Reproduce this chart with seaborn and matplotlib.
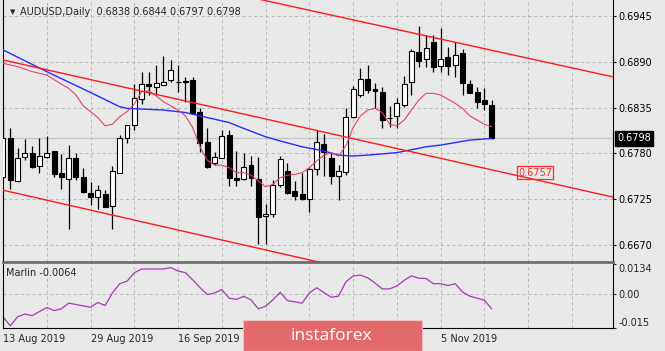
import numpy as np
import pandas as pd
import seaborn as sns
import matplotlib.pyplot as plt
import matplotlib.transforms as mtransforms
from matplotlib.patches import Rectangle

# AUDUSD daily candles, 13 Aug 2019 .. 14 Nov 2019
opens = [0.6752, 0.6798, 0.6747, 0.6776, 0.6781, 0.6765, 0.6776, 0.6783, 0.6757, 0.6750,
         0.6775, 0.6752, 0.6733, 0.6728, 0.6732, 0.6717, 0.6757, 0.6798, 0.6814, 0.6845,
         0.6863, 0.6860, 0.6862, 0.6868, 0.6866, 0.6867, 0.6868, 0.6830, 0.6794, 0.6769,
         0.6775, 0.6802, 0.6751, 0.6750, 0.6766, 0.6750, 0.6705, 0.6707, 0.6742, 0.6759,
         0.6735, 0.6731, 0.6725, 0.6761, 0.6791, 0.6775, 0.6753, 0.6758, 0.6824, 0.6850,
         0.6869, 0.6857, 0.6854, 0.6822, 0.6825, 0.6838, 0.6865, 0.6901, 0.6893, 0.6914,
         0.6885, 0.6895, 0.6886, 0.6900, 0.6863, 0.6854, 0.6844, 0.6838]
highs = [0.6821, 0.6811, 0.6787, 0.6797, 0.6789, 0.6798, 0.6801, 0.6783, 0.6779, 0.6790,
         0.6780, 0.6763, 0.6746, 0.6742, 0.6736, 0.6765, 0.6802, 0.6814, 0.6863, 0.6877,
         0.6877, 0.6886, 0.6897, 0.6892, 0.6886, 0.6872, 0.6872, 0.6834, 0.6810, 0.6782,
         0.6808, 0.6808, 0.6783, 0.6780, 0.6777, 0.6776, 0.6720, 0.6748, 0.6777, 0.6768,
         0.6747, 0.6757, 0.6762, 0.6808, 0.6803, 0.6781, 0.6766, 0.6834, 0.6861, 0.6882,
         0.6886, 0.6864, 0.6860, 0.6837, 0.6847, 0.6873, 0.6905, 0.6933, 0.6922, 0.6922,
         0.6930, 0.6908, 0.6913, 0.6905, 0.6868, 0.6860, 0.6858, 0.6844]
lows = [0.6748, 0.6737, 0.6746, 0.6772, 0.6763, 0.6756, 0.6775, 0.6752, 0.6737, 0.6690,
        0.6748, 0.6733, 0.6718, 0.6713, 0.6716, 0.6690, 0.6756, 0.6793, 0.6808, 0.6839,
        0.6850, 0.6850, 0.6862, 0.6866, 0.6854, 0.6842, 0.6828, 0.6782, 0.6762, 0.6766,
        0.6774, 0.6741, 0.6741, 0.6748, 0.6741, 0.6672, 0.6672, 0.6704, 0.6740, 0.6731,
        0.6724, 0.6724, 0.6710, 0.6754, 0.6753, 0.6744, 0.6724, 0.6754, 0.6823, 0.6848,
        0.6852, 0.6834, 0.6811, 0.6812, 0.6811, 0.6836, 0.6850, 0.6884, 0.6884, 0.6877,
        0.6878, 0.6874, 0.6872, 0.6850, 0.6852, 0.6834, 0.6832, 0.6797]
closes = [0.6798, 0.6748, 0.6775, 0.6780, 0.6764, 0.6777, 0.6781, 0.6755, 0.6752, 0.6775,
          0.6752, 0.6734, 0.6728, 0.6736, 0.6716, 0.6759, 0.6798, 0.6814, 0.6846, 0.6863,
          0.6861, 0.6864, 0.6866, 0.6880, 0.6865, 0.6866, 0.6828, 0.6792, 0.6764, 0.6776,
          0.6801, 0.6751, 0.6748, 0.6764, 0.6751, 0.6704, 0.6708, 0.6742, 0.6773, 0.6733,
          0.6729, 0.6726, 0.6761, 0.6794, 0.6782, 0.6753, 0.6759, 0.6824, 0.6857, 0.6869,
          0.6856, 0.6855, 0.6820, 0.6822, 0.6840, 0.6863, 0.6903, 0.6891, 0.6906, 0.6884,
          0.6893, 0.6885, 0.6898, 0.6864, 0.6852, 0.6842, 0.6839, 0.6798]

# fast MA (pink) and slow MA (blue), read at bar numbers
fast_idx = [0, 2, 4, 6] + list(range(8, 68))
fast_ma = [0.6888, 0.6884, 0.6878, 0.6874,
           0.6863, 0.6858, 0.6850, 0.6837, 0.6830, 0.6823, 0.6813, 0.6815, 0.6824, 0.6830,
           0.6839, 0.6854, 0.6855, 0.6849, 0.6842, 0.6837, 0.6832, 0.6825, 0.6811, 0.6788,
           0.6772, 0.6766, 0.6766, 0.6763, 0.6757, 0.6757, 0.6754, 0.6747, 0.6740, 0.6743,
           0.6751, 0.6754, 0.6755, 0.6757, 0.6763, 0.6771, 0.6778, 0.6781, 0.6777, 0.6789,
           0.6811, 0.6825, 0.6832, 0.6834, 0.6829, 0.6815, 0.6813, 0.6820, 0.6832, 0.6844,
           0.6852, 0.6852, 0.6850, 0.6845, 0.6840, 0.6834, 0.6825, 0.6820, 0.6815, 0.6812]
slow_idx = [0, 6, 12, 16, 17, 22, 25, 28, 31, 33, 36, 38, 41, 44, 46, 48, 50, 54, 58, 60, 64, 67]
slow_ma = [0.6904, 0.6878, 0.6853, 0.6836, 0.6834, 0.6832, 0.6829, 0.6823, 0.6817, 0.6810, 0.6800,
           0.6795, 0.6788, 0.6783, 0.6778, 0.6777, 0.6778, 0.6781, 0.6788, 0.6790, 0.6796, 0.6798]

# channel lines (bar number -> price)
trend_x = [0, 84]
upper_line = [0.7032, 0.6871]
middle_line = [0.6892, 0.6727]
lower_line = [0.6736, 0.6569]
label_price = 0.6757

# Marlin oscillator
marlin_idx = [0, 1, 2, 3, 4, 6, 7, 8, 9, 11, 12, 13, 14, 15, 16, 17, 18, 19, 20, 21, 22, 23, 24,
              25, 26, 27, 28, 29, 30, 31, 32, 33, 34, 35, 36, 37, 38, 39, 40, 41, 42, 43, 44, 45,
              46, 47, 48, 49, 50, 51, 52, 53, 54, 55, 56, 57, 58, 59, 60, 61, 62, 63, 64, 65, 66, 67]
marlin = [-0.0099, -0.0139, -0.0099, -0.0087, -0.0094, -0.0058, -0.0072, -0.0064, -0.0039, -0.0051,
          -0.0057, -0.0036, -0.0049, 0.0006, 0.0047, 0.0058, 0.0095, 0.0112, 0.0112, 0.0112, 0.0112,
          0.0118, 0.0103, 0.0096, 0.0064, 0.0030, -0.0001, 0.0006, 0.0021, -0.0017, -0.0022, -0.0009,
          -0.0024, -0.0064, -0.0053, -0.0024, 0.0009, -0.0028, -0.0033, -0.0039, 0.0006, 0.0029,
          0.0008, -0.0013, -0.0008, 0.0055, 0.0081, 0.0085, 0.0073, 0.0050, 0.0024, 0.0024, 0.0037,
          0.0062, 0.0082, 0.0071, 0.0070, 0.0047, 0.0047, 0.0039, 0.0047, 0.0010, -0.0008, -0.0017,
          -0.0026, -0.0064]

price_ticks = [0.6945, 0.6890, 0.6835, 0.6780, 0.6725, 0.6670]
marlin_ticks = [0.0134, 0.0, -0.015]
marlin_tick_labels = ['0.0134', '0.00', '-0.015']
# ticks under the watermark carry no visible label
date_idx = [0, 12, 24, 36, 48, 60]
date_labels = ['13 Aug 2019', '29 Aug 2019', '16 Sep 2019', '', '', '5 Nov 2019']
grid_idx = list(range(0, 84, 6))

sns.set_style("white")
plt.rcParams['font.family'] = ['DejaVu Sans']
plt.rcParams['font.size'] = 7

BG = '#e8e8e8'
GRID = '#b4b4b4'
W, H = 665, 351


def px_rect(x0, y0, x1, y1):
    return [x0 / W, 1 - y1 / H, (x1 - x0) / W, (y1 - y0) / H]


fig = plt.figure(figsize=(W / 100, H / 100), dpi=100, facecolor=BG)
ax = fig.add_axes(px_rect(2.5, 0, 613, 262), facecolor=BG)
ax2 = fig.add_axes(px_rect(2.5, 264, 613, 328.3), facecolor=BG)

xlim = (-0.07, 83.63)

# --- candles
df = pd.DataFrame({'o': opens, 'h': highs, 'l': lows, 'c': closes})
df['i'] = np.arange(len(df))
up = df['c'] >= df['o']
ax.vlines(df['i'], df['l'], df['h'], color='black', lw=0.9, zorder=3)
ax.bar(df['i'][up], (df['c'] - df['o'])[up], bottom=df['o'][up], width=0.68,
       color='white', edgecolor='black', lw=0.8, zorder=4)
ax.bar(df['i'][~up], (df['o'] - df['c'])[~up], bottom=df['c'][~up], width=0.68,
       color='black', edgecolor='black', lw=0.8, zorder=4)

# moving averages
sns.lineplot(x=slow_idx, y=slow_ma, ax=ax, color='#2b2bff', lw=1.0, zorder=5)
sns.lineplot(x=fast_idx, y=fast_ma, ax=ax, color='#e0405a', lw=0.75, zorder=5)

# channel
for line in (upper_line, middle_line, lower_line):
    sns.lineplot(x=trend_x, y=line, ax=ax, color='#ff1a1a', lw=1.0, zorder=6)

ax.text(70.6, label_price, f'{label_price:.4f}', color='#ff2a2a', fontsize=7,
        ha='left', va='center', zorder=8,
        bbox=dict(boxstyle='square,pad=0.15', fc='none', ec='#ff2a2a', lw=0.9))

# current price line + label
ax.axhline(closes[-1], color='#c4c4c4', lw=0.9, zorder=1)
trans = mtransforms.blended_transform_factory(ax.transAxes, ax.transData)
ax.text(1.0066, closes[-1], f'{closes[-1]:.4f}', transform=trans, color='white',
        fontsize=7, ha='left', va='center', clip_on=False, zorder=10,
        bbox=dict(boxstyle='square,pad=0.22', fc='black', ec='black'))

ax.set_xlim(*xlim)
ax.set_ylim(0.66500, 0.69638)
ax.set_xticks(grid_idx)
ax.set_yticks(price_ticks)
ax.set_yticklabels([f'{v:.4f}' for v in price_ticks])
ax.yaxis.tick_right()
ax.tick_params(axis='x', length=0, labelbottom=False)
ax.tick_params(axis='y', length=2.2, width=0.8, pad=2, colors='black', labelsize=7)
ax.grid(True, ls=(0, (3, 3)), color=GRID, lw=0.7)
ax.set_axisbelow(True)
ax.set_xlabel('')
ax.set_ylabel('')
for s in ('left', 'right'):
    ax.spines[s].set_color('black')
    ax.spines[s].set_linewidth(0.8)
ax.spines['top'].set_visible(False)
ax.spines['bottom'].set_color('#6e6e6e')
ax.spines['bottom'].set_linewidth(2.0)

ax.text(10 / 610.5, 0.954, '\u25BC', transform=ax.transAxes, fontsize=5,
        ha='center', va='center')
ax.text(17.5 / 610.5, 0.954,
        f'AUDUSD,Daily  {opens[-1]:.4f} {highs[-1]:.4f} {lows[-1]:.4f} {closes[-1]:.4f}',
        transform=ax.transAxes, fontsize=7, ha='left', va='center')

# --- Marlin sub window
sns.lineplot(x=marlin_idx, y=marlin, ax=ax2, color='#a53cb4', lw=0.9)
ax2.set_xlim(*xlim)
ax2.set_ylim(-0.015, 0.0134)
ax2.set_xticks(date_idx)
ax2.set_xticklabels(date_labels, ha='left')
ax2.set_xticks(grid_idx, minor=True)
ax2.tick_params(axis='x', which='major', length=2.5, width=0.8, pad=1.5, labelsize=7)
ax2.tick_params(axis='x', which='minor', length=0)
ax2.set_yticks(marlin_ticks)
ax2.set_yticklabels(marlin_tick_labels)
ax2.yaxis.tick_right()
ax2.tick_params(axis='y', length=2.2, width=0.8, pad=2, labelsize=7)
lbls = ax2.get_yticklabels()
lbls[0].set_va('top')
lbls[2].set_va('bottom')
ax2.grid(True, which='both', axis='x', ls=(0, (3, 3)), color=GRID, lw=0.7)
ax2.axhline(0, ls=(0, (3, 3)), color=GRID, lw=0.7, zorder=0)
ax2.set_axisbelow(True)
ax2.set_xlabel('')
ax2.set_ylabel('')
for s in ('left', 'right', 'bottom'):
    ax2.spines[s].set_color('black')
    ax2.spines[s].set_linewidth(0.8)
ax2.spines['top'].set_visible(False)
ax2.text(3.5 / 610.5, 0.86, f'Marlin {marlin[-1]:.4f}', transform=ax2.transAxes,
         fontsize=7, ha='left', va='center')

# watermark
fig.patches.append(Rectangle((243 / W, 0), 179 / W, 31 / H, transform=fig.transFigure,
                             fc='#e36a6a', ec='#f2c0c0', lw=0.8, zorder=20))
fig.text(331 / W, 1 - 336 / H, 'instaforex', color='white', fontsize=12.5,
         family=['Open Sans', 'DejaVu Sans'], ha='center', va='center', zorder=21)

fig.savefig('out.png', dpi=100, facecolor=BG)
